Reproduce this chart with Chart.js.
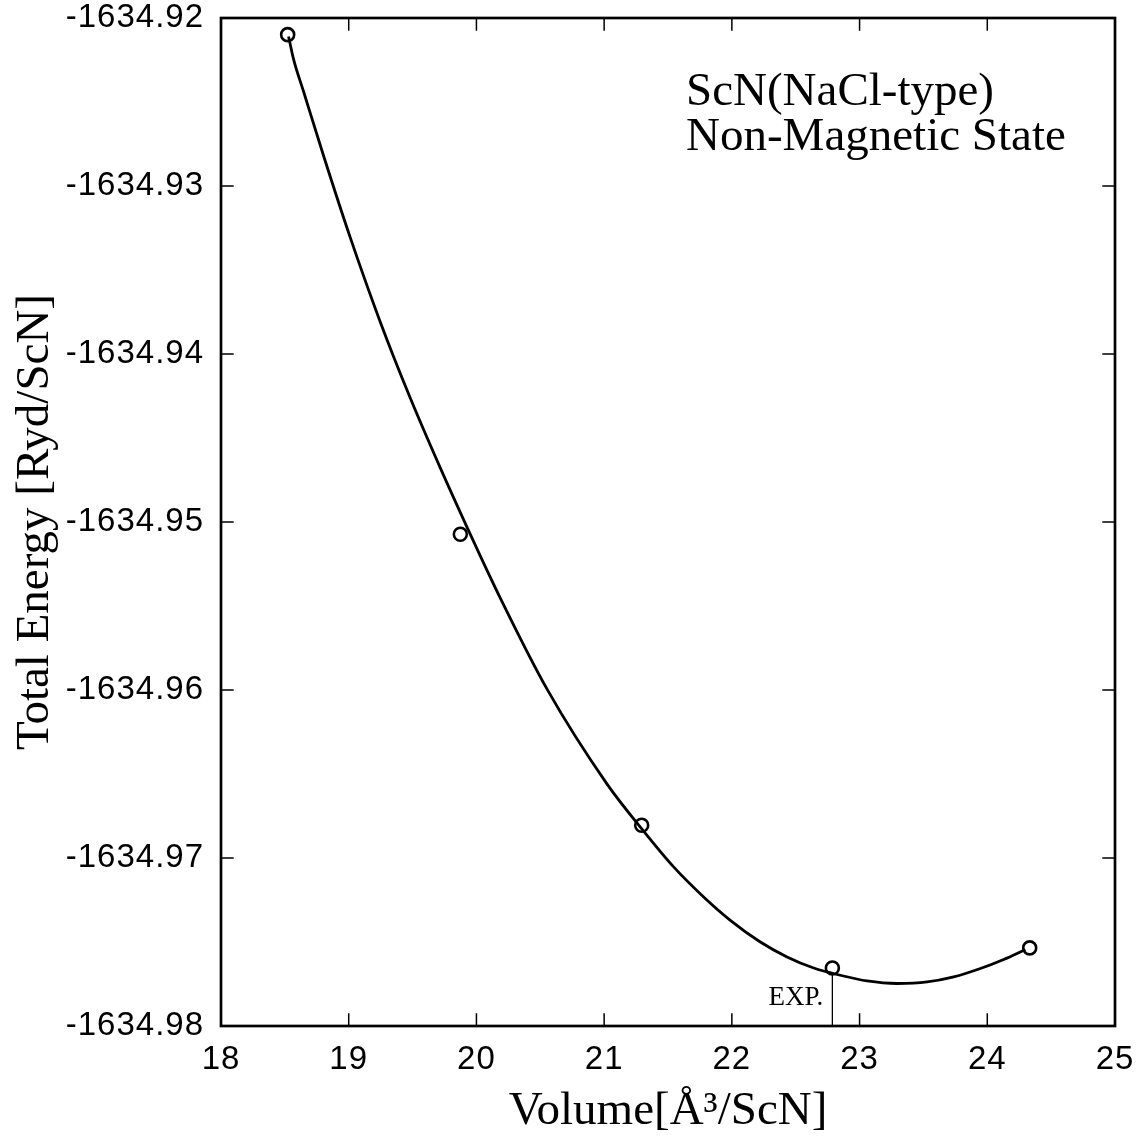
<!DOCTYPE html>
<html>
<head>
<meta charset="utf-8">
<script src="https://cdn.jsdelivr.net/npm/chart.js@4"></script>
<style>
  html, body { margin: 0; padding: 0; background: #fff; }
  canvas { display: block; }
</style>
</head>
<body>
<canvas id="eosChart" width="1141" height="1147"></canvas>
<script>
// calculated points (open circles)
const volumes = [18.522, 19.874, 21.294, 22.787, 24.332];
const energies = [-1634.92099, -1634.95073, -1634.96805, -1634.97655, -1634.97535];

// fitted curve
const fitVolumes = [18.529, 18.569, 18.647, 18.803, 19.013, 19.247, 19.482, 19.717, 19.926,
  20.187, 20.553, 21.023, 21.309, 21.544, 21.779, 21.988, 22.223, 22.432, 22.641, 22.850,
  23.059, 23.294, 23.529, 23.737, 23.946, 24.128, 24.298];
const fitEnergies = [-1634.92110, -1634.92248, -1634.92439, -1634.92820, -1634.93309, -1634.93809,
  -1634.94262, -1634.94678, -1634.95030, -1634.95453, -1634.95995, -1634.96560, -1634.96840,
  -1634.97053, -1634.97232, -1634.97371, -1634.97500, -1634.97589, -1634.97655, -1634.97698,
  -1634.97732, -1634.97747, -1634.97738, -1634.97708, -1634.97658, -1634.97604, -1634.97545];

// experimental volume marker
const expVolume = 22.787;
const expTop = -1634.9769;

const xTicks = [18, 19, 20, 21, 22, 23, 24, 25];
const yTicks = [-1634.98, -1634.97, -1634.96, -1634.95, -1634.94, -1634.93, -1634.92];

const tickFont = { family: '"Liberation Sans", Arial, sans-serif', size: 33 };
const serif = '"Liberation Serif", "Times New Roman", serif';

// frame, inward ticks on all four sides, text labels
const framePlugin = {
  id: 'frame',
  afterDatasetsDraw(chart) {
    const { ctx, chartArea: a, scales: { x, y } } = chart;
    const tl = 12.7;
    ctx.save();
    ctx.strokeStyle = '#000';
    ctx.lineWidth = 1.5;
    ctx.beginPath();
    xTicks.forEach(v => {
      const px = x.getPixelForValue(v);
      ctx.moveTo(px, a.bottom); ctx.lineTo(px, a.bottom - tl);
      ctx.moveTo(px, a.top); ctx.lineTo(px, a.top + tl);
    });
    yTicks.forEach(v => {
      const py = y.getPixelForValue(v);
      ctx.moveTo(a.left, py); ctx.lineTo(a.left + tl, py);
      ctx.moveTo(a.right, py); ctx.lineTo(a.right - tl, py);
    });
    ctx.stroke();
    ctx.lineWidth = 2.7;
    ctx.strokeRect(a.left, a.top, a.right - a.left, a.bottom - a.top);

    ctx.fillStyle = '#000';
    ctx.textBaseline = 'alphabetic';
    ctx.font = '47px ' + serif;
    ctx.textAlign = 'left';
    ctx.fillText('ScN(NaCl-type)', a.left + 465, a.top + 87);
    ctx.fillText('Non-Magnetic State', a.left + 465, a.top + 132);

    ctx.font = '27px ' + serif;
    ctx.textAlign = 'right';
    ctx.fillText('EXP.', x.getPixelForValue(expVolume) - 9, a.bottom - 21);
    ctx.restore();
    // tick labels (z: 1) are drawn after this hook; the original digits are set a bit wide
    ctx.letterSpacing = '1px';
  },
  afterDraw(chart) {
    chart.ctx.letterSpacing = '0px';
  }
};

new Chart(document.getElementById('eosChart'), {
  type: 'scatter',
  data: {
    datasets: [
      {
        // fitted E(V) curve
        data: fitVolumes.map((v, i) => ({ x: v, y: fitEnergies[i] })),
        showLine: true,
        borderColor: '#000',
        borderWidth: 2.8,
        pointRadius: 0,
        cubicInterpolationMode: 'monotone'
      },
      {
        data: volumes.map((v, i) => ({ x: v, y: energies[i] })),
        showLine: false,
        pointStyle: 'circle',
        pointRadius: 6.5,
        pointBorderWidth: 2.6,
        pointBorderColor: '#000',
        pointBackgroundColor: 'rgba(0,0,0,0)'
      },
      {
        data: [{ x: expVolume, y: yTicks[0] }, { x: expVolume, y: expTop }],
        showLine: true,
        borderColor: '#000',
        borderWidth: 1.3,
        pointRadius: 0
      }
    ]
  },
  options: {
    responsive: false,
    animation: false,
    layout: { padding: { top: 18, right: 26, left: 0, bottom: 0 } },
    plugins: {
      legend: { display: false },
      tooltip: { enabled: false }
    },
    scales: {
      x: {
        type: 'linear',
        min: 18,
        max: 25,
        afterFit: s => { s.height = 121; s.paddingLeft = 0; s.paddingRight = 0; },
        afterBuildTicks: s => { s.ticks = xTicks.map(v => ({ value: v })); },
        grid: { display: false, drawTicks: false },
        border: { display: false },
        ticks: {
          color: '#000',
          font: tickFont,
          padding: 14,
          z: 1,
          maxRotation: 0,
          autoSkip: false
        },
        title: {
          display: true,
          text: 'Volume[Å³/ScN]',
          color: '#000',
          font: { family: serif, size: 47 },
          padding: { top: 0, bottom: 7 }
        }
      },
      y: {
        type: 'linear',
        min: yTicks[0],
        max: yTicks[yTicks.length - 1],
        afterFit: s => { s.width = 221; s.paddingTop = 0; s.paddingBottom = 0; },
        afterBuildTicks: s => { s.ticks = yTicks.map(v => ({ value: v })); },
        grid: { display: false, drawTicks: false },
        border: { display: false },
        ticks: {
          color: '#000',
          font: tickFont,
          padding: 17,
          z: 1,
          autoSkip: false,
          callback: v => v.toFixed(2)
        },
        title: {
          display: true,
          text: 'Total Energy [Ryd/ScN]',
          color: '#000',
          font: { family: serif, size: 47 },
          padding: { top: 7, bottom: 0 }
        }
      }
    }
  },
  plugins: [framePlugin]
});
</script>
</body>
</html>
